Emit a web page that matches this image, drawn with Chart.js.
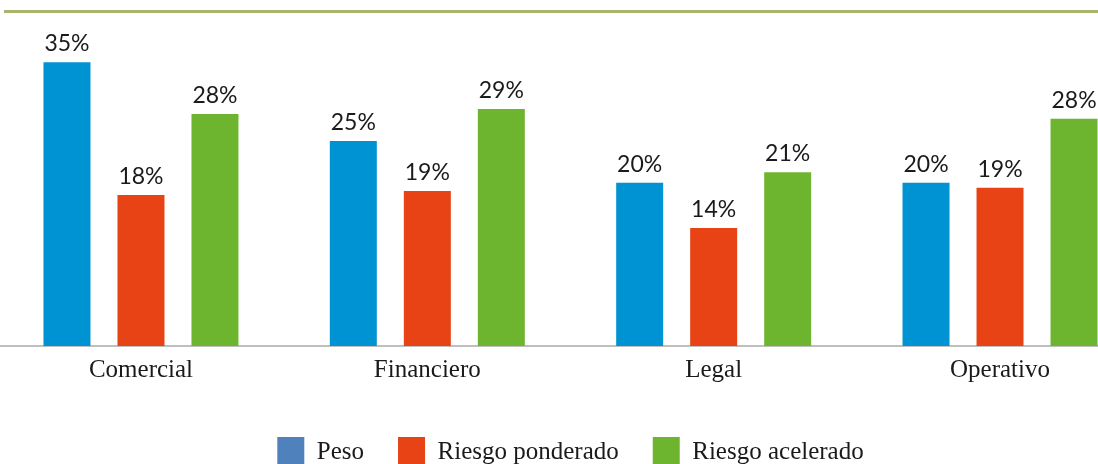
<!DOCTYPE html>
<html lang="es">
<head>
<meta charset="utf-8">
<title>Riesgos por categoría</title>
<script src="https://cdn.jsdelivr.net/npm/chart.js@4.4.1/dist/chart.umd.min.js"></script>
<style>
    html, body { margin: 0; padding: 0; background: #fff; overflow: hidden; width: 1098px; height: 464px; }
    #lineaTitulo { position: absolute; left: 4px; right: 0; top: 10px; height: 3px; background: #a9b56c; }
    #contenedor { position: absolute; left: -20px; top: 0; width: 1180px; height: 477px; }
</style>
</head>
<body>
<div id="lineaTitulo"></div>
<div id="contenedor"><canvas id="graficoRiesgos"></canvas></div>
<script>
// --- DATOS ---
const categorias = ['Comercial', 'Financiero', 'Legal', 'Operativo'];
const nombresSeries = ['Peso', 'Riesgo ponderado', 'Riesgo acelerado'];
const valoresPeso = [34.6, 25.0, 19.9, 19.9];
const valoresPonderado = [18.4, 18.9, 14.4, 19.3];
const valoresAcelerado = [28.3, 28.9, 21.2, 27.7];
const ejeYMax = 40;

// --- COLORES ---
const coloresBarras = ['#0093d3', '#e84315', '#6eb52f'];
const coloresLeyenda = ['#4f81bd', '#e84315', '#6eb52f']; // la leyenda usa otro azul
const colorTexto = '#1a1a1a';

// --- ETIQUETAS DE PORCENTAJE SOBRE CADA BARRA ---
const etiquetasPorcentaje = {
    id: 'etiquetasPorcentaje',
    afterDatasetsDraw(chart) {
        const ctx = chart.ctx;
        ctx.save();
        ctx.font = '23px Lato';
        ctx.fillStyle = colorTexto;
        ctx.textAlign = 'center';
        ctx.textBaseline = 'alphabetic';
        chart.data.datasets.forEach((ds, i) => {
            chart.getDatasetMeta(i).data.forEach((barra, j) => {
                ctx.fillText(Math.round(ds.data[j]) + '%', barra.x, barra.y - 11);
            });
        });
        ctx.restore();
    }
};

const series = [valoresPeso, valoresPonderado, valoresAcelerado];

const ctx = document.getElementById('graficoRiesgos').getContext('2d');
const miGrafico = new Chart(ctx, {
    type: 'bar',
    data: {
        labels: categorias,
        datasets: series.map((valores, i) => ({
            label: nombresSeries[i],
            data: valores,
            backgroundColor: coloresBarras[i],
            borderWidth: 0,
            categoryPercentage: 0.7753,
            barPercentage: 0.635
        }))
    },
    options: {
        responsive: true,
        maintainAspectRatio: false,
        animation: false,
        layout: { padding: { top: 18, left: 17.8, right: 16.8, bottom: 0 } },
        plugins: {
            tooltip: { enabled: false },
            legend: {
                display: true,
                position: 'bottom',
                labels: {
                    boxWidth: 27,
                    boxHeight: 30,
                    padding: 34,
                    color: colorTexto,
                    font: { family: '"Liberation Serif", serif', size: 25 },
                    generateLabels(chart) {
                        return chart.data.datasets.map((ds, i) => ({
                            text: ds.label,
                            fillStyle: coloresLeyenda[i],
                            strokeStyle: coloresLeyenda[i],
                            lineWidth: 0,
                            hidden: false,
                            datasetIndex: i,
                            fontColor: colorTexto
                        }));
                    }
                }
            }
        },
        scales: {
            x: {
                grid: { display: false, drawTicks: false },
                border: { display: true, color: '#bfbfbf', width: 2 },
                ticks: {
                    color: colorTexto,
                    padding: 9,
                    font: { family: '"Liberation Serif", serif', size: 25 }
                },
                afterFit(scale) { scale.height = 57; }
            },
            y: {
                display: false,
                min: 0,
                max: ejeYMax
            }
        }
    },
    plugins: [etiquetasPorcentaje]
});
</script>
</body>
</html>
